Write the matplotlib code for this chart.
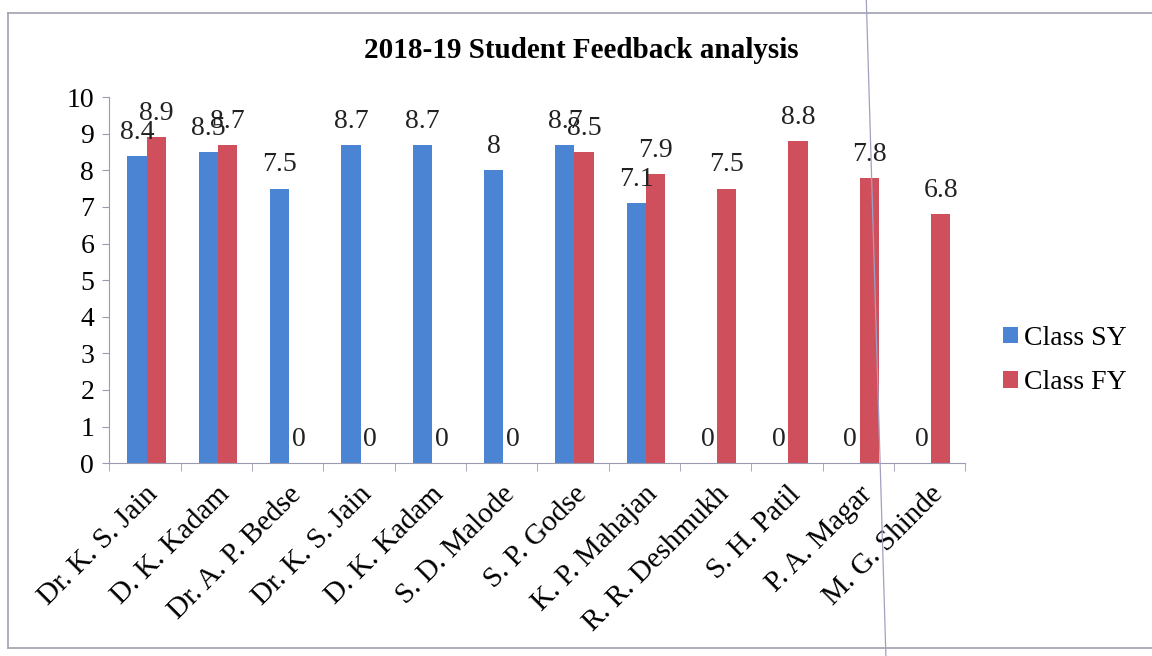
import matplotlib.pyplot as plt
import numpy as np

plt.rcParams['font.family'] = ['Liberation Serif', 'DejaVu Serif']

names = ['Dr. K. S. Jain', 'D. K. Kadam', 'Dr. A. P. Bedse', 'Dr. K. S. Jain',
         'D. K. Kadam', 'S. D. Malode', 'S. P. Godse', 'K. P. Mahajan',
         'R. R. Deshmukh', 'S. H. Patil', 'P. A. Magar', 'M. G. Shinde']
class_sy = [8.4, 8.5, 7.5, 8.7, 8.7, 8, 8.7, 7.1, 0, 0, 0, 0]
class_fy = [8.9, 8.7, 0, 0, 0, 0, 8.5, 7.9, 7.5, 8.8, 7.8, 6.8]

blue = '#4a84d2'
red = '#cf4f5c'
axis_col = '#9a9ab0'
fs = 20

fig = plt.figure(figsize=(11.52, 6.56), dpi=100)
ax = fig.add_axes([0.095, 0.294, 0.743, 0.558])

x = np.arange(len(names))
w = 0.27
b1 = ax.bar(x - w / 2 + 0.02, class_sy, w, color=blue, label='Class SY')
b2 = ax.bar(x + w / 2 + 0.02, class_fy, w, color=red, label='Class FY')

for bars, vals in ((b1, class_sy), (b2, class_fy)):
    for r, v in zip(bars, vals):
        ax.annotate('%g' % v, (r.get_x() + r.get_width() / 2, v),
                    xytext=(0, 17), textcoords='offset points',
                    ha='center', va='center', fontsize=fs, color='#222222')

ax.set_xlim(-0.5, len(names) - 0.5)
ax.set_ylim(0, 10)
ax.set_yticks(range(0, 11))
ax.set_xticks(x)
ax.set_xticklabels(names, rotation=45, ha='right', rotation_mode='anchor', fontsize=21)
ax.tick_params(axis='x', length=0, pad=13)
ax.set_xticks(np.arange(-0.5, len(names)), minor=True)
ax.tick_params(axis='x', which='minor', length=6, color=axis_col, direction='out')
ax.tick_params(axis='y', labelsize=fs, length=5, color=axis_col, pad=6)

for s in ('top', 'right'):
    ax.spines[s].set_visible(False)
for s in ('left', 'bottom'):
    ax.spines[s].set_color(axis_col)

fig.text(0.505, 0.923, '2018-19 Student Feedback analysis', ha='center', va='center',
         fontsize=21, fontweight='bold')

ax.legend(loc='center left', bbox_to_anchor=(1.015, 0.28), frameon=False,
          fontsize=fs, handlelength=0.55, handleheight=0.55, handletextpad=0.2,
          labelspacing=0.7)

# chart frame and the scanned page line
fig.add_artist(plt.Line2D([0.007, 1.0], [0.980, 0.980], color='#a0a0b0', lw=1.2))
fig.add_artist(plt.Line2D([0.007, 1.0], [0.012, 0.012], color='#a0a0b0', lw=1.2))
fig.add_artist(plt.Line2D([0.007, 0.007], [0.012, 0.980], color='#a0a0b0', lw=1.2))
fig.add_artist(plt.Line2D([0.752, 0.769], [1.0, 0.0], color='#a0a0c0', lw=0.9))

plt.savefig('out.png', dpi=100)
